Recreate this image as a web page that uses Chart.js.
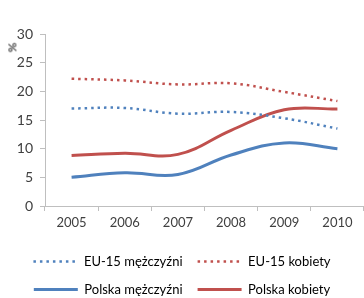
<!DOCTYPE html>
<html>
<head>
<meta charset="utf-8">
<script src="https://cdn.jsdelivr.net/npm/chart.js@4"></script>
<style>
  html, body { margin: 0; padding: 0; background: #fff; }
  #wrap { position: relative; width: 364px; height: 298px; }
  #pct { position: absolute; left: 7px; top: 40px; font: bold 12px Lato, sans-serif; color: #404040; transform: rotate(-90deg); }
</style>
</head>
<body>
<div id="wrap">
  <canvas id="lineChart" width="364" height="298"></canvas>
  <span id="pct">%</span>
</div>
<script>
const years = ["2005", "2006", "2007", "2008", "2009", "2010"];
const euMen = [17.0, 17.1, 16.1, 16.4, 15.3, 13.5];
const euWomen = [22.2, 21.9, 21.2, 21.4, 19.9, 18.3];
const plMen = [5.0, 5.8, 5.5, 8.9, 11.0, 10.0];
const plWomen = [8.8, 9.2, 9.0, 13.2, 16.8, 16.9];
const yTicks = [0, 5, 10, 15, 20, 25, 30];

const blue = "#4F81BD";
const red = "#C0504D";
const textColor = "#404040";
const axisColor = "#BFBFBF";
const dots = [2.5, 4];

document.addEventListener("DOMContentLoaded", function () {
    const ctx = document.getElementById("lineChart").getContext("2d");
    new Chart(ctx, {
        type: "line",
        data: {
            labels: years,
            datasets: [
                { label: "EU-15 mężczyźni", data: euMen, borderColor: blue, borderDash: dots, borderWidth: 2.5 },
                { label: "EU-15 kobiety", data: euWomen, borderColor: red, borderDash: dots, borderWidth: 2.5 },
                { label: "Polska mężczyźni", data: plMen, borderColor: blue, borderWidth: 3 },
                { label: "Polska kobiety", data: plWomen, borderColor: red, borderWidth: 3 }
            ]
        },
        options: {
            responsive: false,
            animation: false,
            layout: { padding: { top: 34, right: 0, left: 0, bottom: -8 } },
            elements: {
                point: { radius: 0 },
                line: { tension: 0.4, fill: false, borderCapStyle: "butt" }
            },
            scales: {
                x: {
                    offset: true,
                    afterFit: function (axis) { axis.height = 34; },
                    grid: { display: true, drawOnChartArea: false, drawTicks: true, tickLength: 5, color: axisColor, offset: true },
                    border: { color: axisColor },
                    ticks: { color: textColor, font: { family: "Lato", size: 13 }, padding: 4, maxRotation: 0 }
                },
                y: {
                    min: 0,
                    max: 30,
                    afterFit: function (axis) { axis.width = 45; },
                    afterBuildTicks: function (axis) { axis.ticks = yTicks.map(v => ({ value: v })); },
                    grid: { display: true, drawOnChartArea: false, drawTicks: true, tickLength: 5, color: axisColor },
                    border: { color: axisColor },
                    ticks: { color: textColor, font: { family: "Lato", size: 14 }, padding: 7 }
                }
            },
            plugins: {
                tooltip: { enabled: false },
                legend: {
                    position: "bottom",
                    labels: {
                        usePointStyle: true,
                        pointStyle: "line",
                        pointStyleWidth: 44,
                        boxWidth: 44,
                        boxHeight: 10,
                        padding: 15,
                        color: textColor,
                        font: { family: "Lato", size: 13 },
                        generateLabels: function (chart) {
                            return chart.data.datasets.map((ds, i) => ({
                                text: ds.label,
                                strokeStyle: ds.borderColor,
                                fillStyle: ds.borderColor,
                                lineWidth: ds.borderWidth,
                                lineDash: ds.borderDash || [],
                                pointStyle: "line",
                                datasetIndex: i
                            }));
                        }
                    }
                }
            }
        }
    });
});
</script>
</body>
</html>
